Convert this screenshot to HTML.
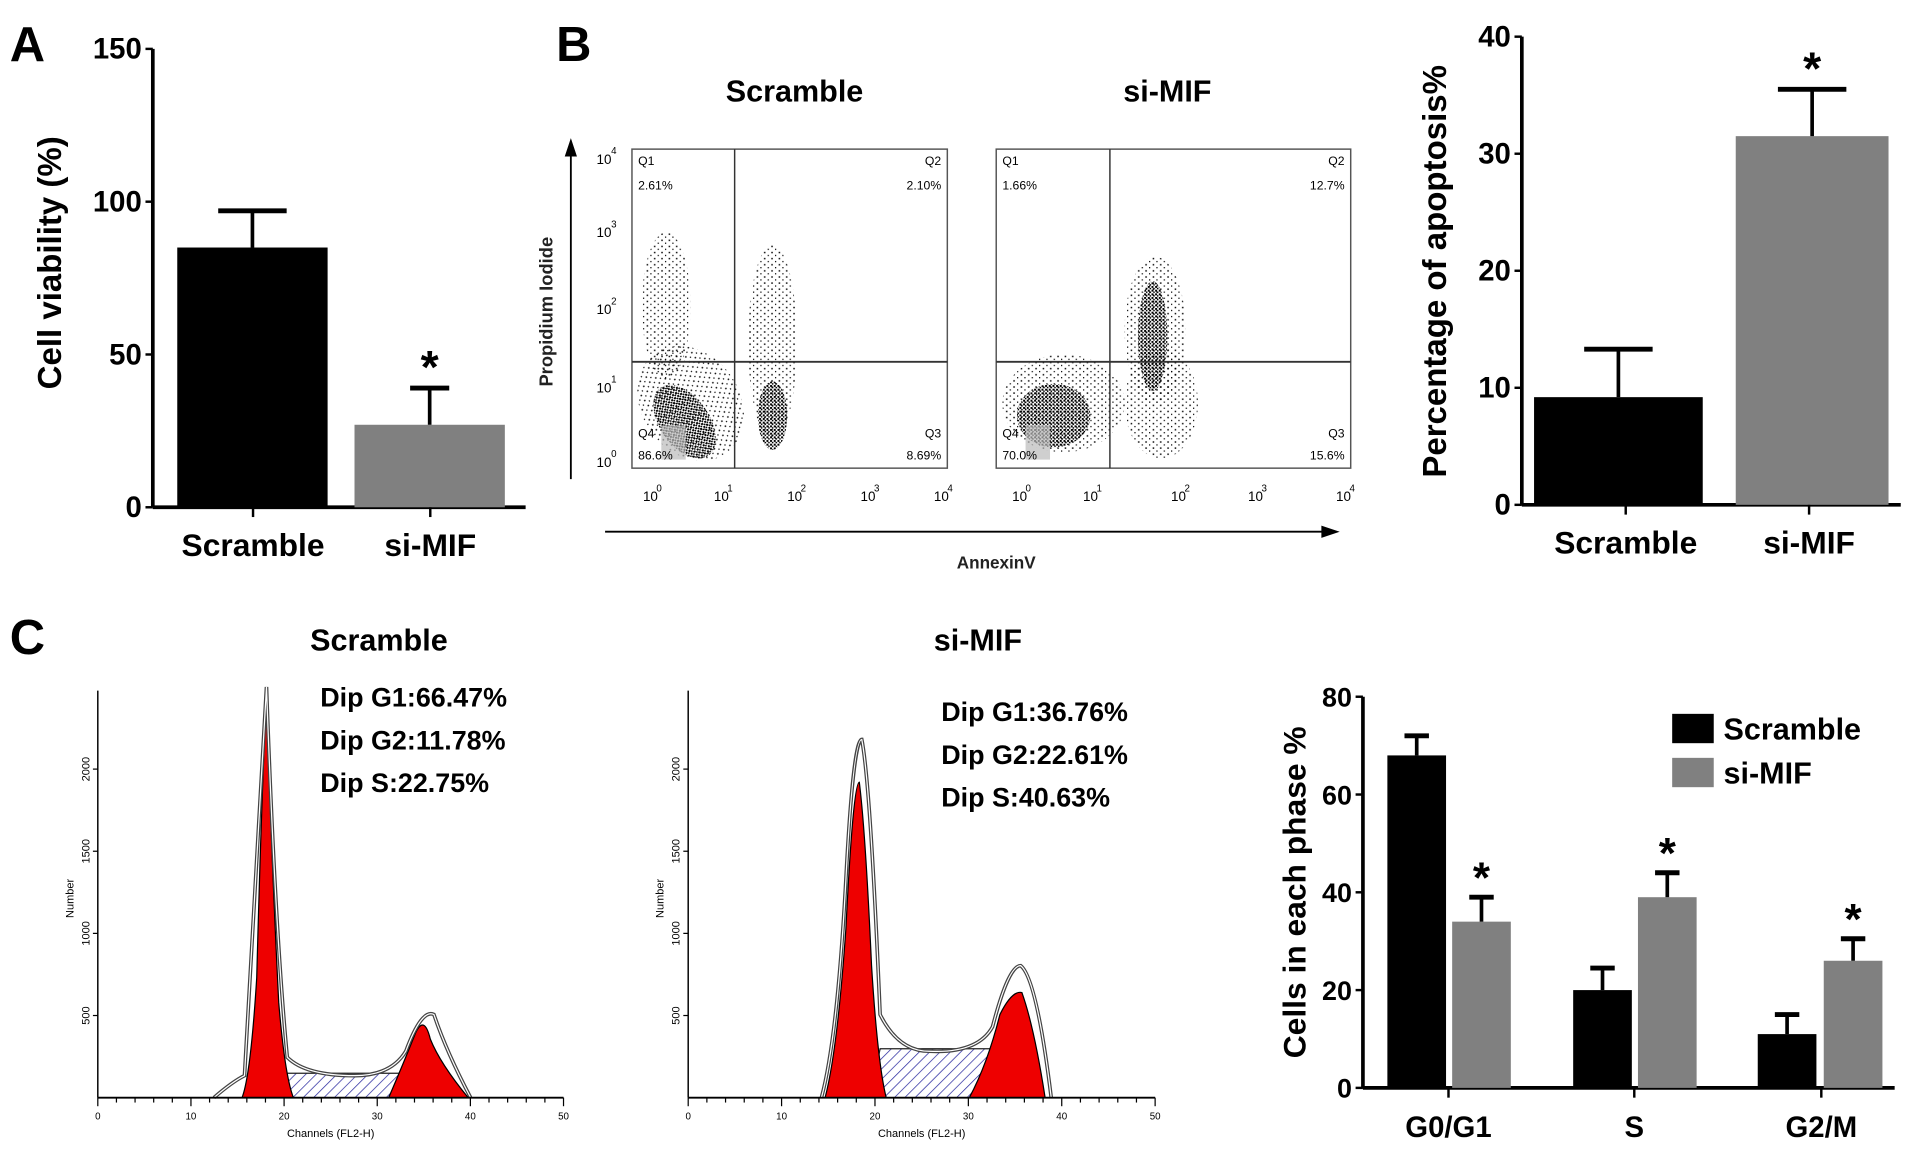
<!DOCTYPE html>
<html><head><meta charset="utf-8"><style>
html,body{margin:0;padding:0;background:#fff}
svg{display:block}
text{font-family:"Liberation Sans",Arial,sans-serif}
.b{font-weight:bold}
</style></head><body>
<svg id="fig" width="1913" height="1160" viewBox="0 0 1565 949" xmlns="http://www.w3.org/2000/svg">
<defs>
<pattern id="dots" width="3" height="3" patternUnits="userSpaceOnUse"><rect x="0" y="0" width="1.6" height="1.6" fill="#000"/><rect x="1.5" y="1.5" width="1.2" height="1.2" fill="#000"/></pattern>
<pattern id="sparse" width="6" height="5" patternUnits="userSpaceOnUse"><rect x="1" y="1" width="1.2" height="1.2" fill="#000"/><rect x="4" y="3.5" width="1" height="1" fill="#000"/></pattern>
<pattern id="hatchB" width="6" height="6" patternUnits="userSpaceOnUse" patternTransform="rotate(45)"><line x1="0" y1="0" x2="0" y2="6" stroke="#2a2aa0" stroke-width="1.2"/></pattern>
</defs>
<g id="A"></g>
<g id="B"></g>
<g id="Bbar"></g>
<g id="C"></g>
<g id="Cbar"></g>
</svg>
<script>
// Panel A data
const aCats = ['Scramble','si-MIF'];
const aVals = [85, 27];
const aErrs = [12, 12];
const aTicks = [0,50,100,150];
// Panel B bar data
const bCats = ['Scramble','si-MIF'];
const bVals = [9.2, 31.5];
const bErrs = [4.1, 4.0];
const bTicks = [0,10,20,30,40];
// Panel C bar data
const cCats = ['G0/G1','S','G2/M'];
const cScr = [68, 20, 11];
const cScrErr = [4, 4.5, 4];
const cSi = [34, 39, 26];
const cSiErr = [5, 5, 4.5];
const cTicks = [0,20,40,60,80];
const cStats = [['Dip G1:66.47%','Dip G2:11.78%','Dip S:22.75%'],['Dip G1:36.76%','Dip G2:22.61%','Dip S:40.63%']];
const quadLabels = [['2.61%','2.10%','86.6%','8.69%'],['1.66%','12.7%','70.0%','15.6%']];
const histTicks = [500,1000,1500,2000];

const NS='http://www.w3.org/2000/svg';
function mk(parent, tag, attrs, txt){const e=document.createElementNS(NS,tag);for(const k in attrs)e.setAttribute(k,attrs[k]);if(txt!==undefined)e.textContent=txt;parent.appendChild(e);return e;}

function barChart(g, o){
  const y=v=>o.y0-(v-o.min)/(o.max-o.min)*(o.y0-o.yTop);
  let el;
  el=mk(g,'line',{x1:o.ax,y1:o.yTop,x2:o.ax,y2:o.y0,stroke:'#000','stroke-width':3});
  
  
  el=mk(g,'line',{x1:o.ax,y1:o.y0,x2:o.axEnd,y2:o.y0,stroke:'#000','stroke-width':3});
  
  
  o.ticks.forEach(t=>{
    mk(g,'line',{x1:o.ax-6,y1:y(t),x2:o.ax,y2:y(t),stroke:'#000','stroke-width':2});
    el=mk(g,'text',{x:o.ax-9,y:y(t)+8,'text-anchor':'end','font-size':o.tf,'class':'b'},t);
    
    
  });
  o.bars.forEach(b=>{
    const top=y(b.v);
    el=mk(g,'rect',{x:b.x,y:top,width:b.w,height:o.y0-top,fill:b.c});
    
    
    const et=y(b.v+b.e), cx=b.x+b.w/2;
    mk(g,'line',{x1:cx,y1:top,x2:cx,y2:et,stroke:'#000','stroke-width':3});
    el=mk(g,'line',{x1:cx-b.cap,y1:et,x2:cx+b.cap,y2:et,stroke:'#000','stroke-width':4});
    
    
    if(b.star){el=mk(g,'text',{x:cx,y:et-4,'text-anchor':'middle','font-size':o.sf,'class':'b'},'*');
      
      }
  });
  o.cats.forEach(c=>{
    mk(g,'line',{x1:c.x,y1:o.y0,x2:c.x,y2:o.y0+8,stroke:'#000','stroke-width':2});
    el=mk(g,'text',{x:c.x,y:o.y0+o.lo,'text-anchor':'middle','font-size':o.lf,'class':'b'},c.t);
    
    
  });
  el=mk(g,'text',{x:0,y:0,'text-anchor':'middle','font-size':o.yf,'class':'b',transform:`translate(${o.ylx},${o.yly}) rotate(-90)`},o.yl);
  
  
}

// Panel A
const A=document.getElementById('A');
let t=mk(A,'text',{x:8,y:50,'font-size':40,'class':'b'},'A');
barChart(A,{ax:125,axEnd:430,y0:415,yTop:40,min:0,max:150,ticks:aTicks,tf:24,sf:38,lf:26,lo:40,
  bars:[{n:'scramble',x:145,w:123,v:aVals[0],e:aErrs[0],c:'#000',cap:28},{n:'si-mif',x:290,w:123,v:aVals[1],e:aErrs[1],c:'#808080',cap:16,star:true}],
  cats:[{x:207,t:aCats[0]},{x:352,t:aCats[1]}],yl:'Cell viability (%)',ylx:50,yly:215,yf:27});

// Panel B bar
barChart(document.getElementById('Bbar'),{ax:1245,axEnd:1555,y0:413,yTop:30,min:0,max:40,ticks:bTicks,tf:24,sf:38,lf:26,lo:40,
  bars:[{n:'scramble',x:1255,w:138,v:bVals[0],e:bErrs[0],c:'#000',cap:28},{n:'si-mif',x:1420,w:125,v:bVals[1],e:bErrs[1],c:'#808080',cap:28,star:true}],
  cats:[{x:1330,t:bCats[0]},{x:1480,t:bCats[1]}],yl:'Percentage of apoptosis%',ylx:1183,yly:222,yf:27});

// Panel C bar
const Cb=document.getElementById('Cbar');
barChart(Cb,{ax:1115,axEnd:1550,y0:890,yTop:570,min:0,max:80,ticks:cTicks,tf:22,sf:36,lf:24,lo:40,
  bars:[
   {n:'scramble-g0g1',x:1135,w:48,v:cScr[0],e:cScrErr[0],c:'#000',cap:10},
   {n:'si-mif-g0g1',x:1188,w:48,v:cSi[0],e:cSiErr[0],c:'#808080',cap:10,star:true},
   {n:'scramble-s',x:1287,w:48,v:cScr[1],e:cScrErr[1],c:'#000',cap:10},
   {n:'si-mif-s',x:1340,w:48,v:cSi[1],e:cSiErr[1],c:'#808080',cap:10,star:true},
   {n:'scramble-g2m',x:1438,w:48,v:cScr[2],e:cScrErr[2],c:'#000',cap:10},
   {n:'si-mif-g2m',x:1492,w:48,v:cSi[2],e:cSiErr[2],c:'#808080',cap:10,star:true}],
  cats:[{x:1185,t:cCats[0]},{x:1337,t:cCats[1]},{x:1490,t:cCats[2]}],yl:'Cells in each phase %',ylx:1068,yly:730,yf:26});
[['#000','Scramble',584],['#808080','si-MIF',620]].forEach((L,i)=>{
  const g=mk(Cb,'g',{});
  
  
  mk(g,'rect',{x:1368,y:L[2],width:34,height:24,fill:L[0]});
  mk(g,'text',{x:1410,y:L[2]+21,'font-size':25,'class':'b'},L[1]);
});

// Panel B scatter plots
const B=document.getElementById('B');
t=mk(B,'text',{x:455,y:50,'font-size':40,'class':'b'},'B');
mk(B,'line',{x1:467,y1:392,x2:467,y2:122,stroke:'#000','stroke-width':1.5});
mk(B,'polygon',{points:'467,113 462,128 472,128',fill:'#000'});
mk(B,'line',{x1:495,y1:435,x2:1085,y2:435,stroke:'#000','stroke-width':1.5});
mk(B,'polygon',{points:'1096,435 1081,430 1081,440',fill:'#000'});
t=mk(B,'text',{x:0,y:0,'font-size':15,'class':'b','text-anchor':'middle',fill:'#222',transform:'translate(452,255) rotate(-90)'},'Propidium Iodide');
t=mk(B,'text',{x:815,y:465,'font-size':14,'class':'b','text-anchor':'middle',fill:'#222'},'AnnexinV');
const plots=[{x0:517,x1:775,gx:601,gy:296,title:'Scramble',tx:650,xt:[530,588,648,708,768],
  blobs:[[565,330,40,50,-35,'sparse'],[545,250,20,60,0,'sparse'],[632,280,20,80,0,'sparse'],[560,345,20,34,-35,'dots'],[632,340,12,28,0,'dots']]},
 {x0:815,x1:1105,gx:908,gy:296,title:'si-MIF',tx:955,xt:[832,890,962,1025,1097],
  blobs:[[870,330,50,40,0,'sparse'],[950,330,30,45,0,'sparse'],[945,270,25,60,0,'sparse'],[862,340,30,26,0,'dots'],[943,275,12,45,0,'dots']]}];
plots.forEach((p,i)=>{
  const g=mk(B,'g',{});
  
  
  t=mk(g,'text',{x:p.tx,y:83,'font-size':25,'class':'b','text-anchor':'middle'},p.title);
  p.blobs.forEach(b=>mk(g,'ellipse',{cx:b[0],cy:b[1],rx:b[2],ry:b[3],fill:`url(#${b[5]})`,transform:`rotate(${b[4]} ${b[0]} ${b[1]})`}));
  mk(g,'rect',{x:p.x0+24,y:348,width:20,height:28,fill:'#bbb',opacity:0.7});
  mk(g,'rect',{x:p.x0,y:122,width:p.x1-p.x0,height:261,fill:'none',stroke:'#555','stroke-width':1.2});
  mk(g,'line',{x1:p.gx,y1:122,x2:p.gx,y2:383,stroke:'#333','stroke-width':1.2});
  mk(g,'line',{x1:p.x0,y1:p.gy,x2:p.x1,y2:p.gy,stroke:'#333','stroke-width':1.5});
  const ql=quadLabels[i];
  mk(g,'text',{x:p.x0+5,y:135,'font-size':10},'Q1');mk(g,'text',{x:p.x0+5,y:155,'font-size':10},ql[0]);
  mk(g,'text',{x:p.x1-5,y:135,'font-size':10,'text-anchor':'end'},'Q2');mk(g,'text',{x:p.x1-5,y:155,'font-size':10,'text-anchor':'end'},ql[1]);
  mk(g,'text',{x:p.x0+5,y:358,'font-size':10},'Q4');mk(g,'text',{x:p.x0+5,y:376,'font-size':10},ql[2]);
  mk(g,'text',{x:p.x1-5,y:358,'font-size':10,'text-anchor':'end'},'Q3');mk(g,'text',{x:p.x1-5,y:376,'font-size':10,'text-anchor':'end'},ql[3]);
  p.xt.forEach((x,k)=>{mk(g,'text',{x:x-4,y:410,'font-size':11},'10');mk(g,'text',{x:x+7,y:402,'font-size':8},k);});
  if(i===0)[378,317,253,190,130].forEach((y,k)=>{mk(g,'text',{x:488,y:y+4,'font-size':11},'10');mk(g,'text',{x:500,y:y-4,'font-size':8},k);});
});

// Panel C histograms
const C=document.getElementById('C');
t=mk(C,'text',{x:8,y:535,'font-size':40,'class':'b'},'C');
const hists=[{ax:80,x50:461,title:'Scramble',tx:310,txx:262,ty:578,yTop:562,
  g1:'M198,898 Q205,880 210,800 Q214,650 218,568 Q222,700 228,820 Q233,880 240,898 Z',
  g2:'M318,898 Q330,870 340,845 Q347,830 352,850 Q360,870 383,898 Z',
  s:'M228,898 L232,878 L330,878 L336,898 Z',
  env:'M175,898 Q190,885 200,880 Q210,700 218,562 Q225,760 235,865 Q250,880 290,880 Q320,880 332,860 Q345,825 355,830 Q365,860 385,898'},
 {ax:563,x50:945,title:'si-MIF',tx:800,txx:770,ty:590,yTop:562,
  g1:'M675,898 Q685,860 692,760 Q698,640 703,640 Q708,680 713,790 Q718,870 725,898 Z',
  g2:'M793,898 Q808,870 818,830 Q828,810 836,812 Q846,840 855,898 Z',
  s:'M712,898 L720,858 L812,858 L820,898 Z',
  env:'M672,898 Q685,850 692,720 Q698,605 705,605 Q712,640 720,830 Q735,860 760,860 Q800,862 812,840 Q825,790 835,790 Q848,800 860,898'}];
hists.forEach((h,i)=>{
  const g=mk(C,'g',{});
  
  
  mk(g,'text',{x:h.tx,y:532,'font-size':25,'class':'b','text-anchor':'middle'},h.title);
  mk(g,'path',{d:h.s,fill:'url(#hatchB)',stroke:'#222','stroke-width':1});
  mk(g,'path',{d:h.g1,fill:'#ee0000',stroke:'#000','stroke-width':1});
  mk(g,'path',{d:h.g2,fill:'#ee0000',stroke:'#000','stroke-width':1});
  mk(g,'path',{d:h.env,fill:'none',stroke:'#444','stroke-width':3});
  mk(g,'path',{d:h.env,fill:'none',stroke:'#fff','stroke-width':1});
  mk(g,'line',{x1:h.ax,y1:565,x2:h.ax,y2:898,stroke:'#000','stroke-width':1.2});
  mk(g,'line',{x1:h.ax,y1:898,x2:h.x50,y2:898,stroke:'#000','stroke-width':1.5});
  histTicks.forEach(v=>{const y=898-v/2500*(898-h.yTop);
    mk(g,'line',{x1:h.ax-4,y1:y,x2:h.ax,y2:y,stroke:'#000','stroke-width':1});
    mk(g,'text',{x:0,y:0,'font-size':9,'text-anchor':'middle',transform:`translate(${h.ax-7},${y}) rotate(-90)`},v);});
  for(let k=0;k<=50;k+=2){const x=h.ax+(h.x50-h.ax)*k/50;mk(g,'line',{x1:x,y1:898,x2:x,y2:k%10?902:905,stroke:'#000','stroke-width':1});}
  for(let k=0;k<=50;k+=10){const x=h.ax+(h.x50-h.ax)*k/50;mk(g,'text',{x:x,y:916,'font-size':8,'text-anchor':'middle'},k);}
  mk(g,'text',{x:(h.ax+h.x50)/2,y:930,'font-size':9,'text-anchor':'middle'},'Channels (FL2-H)');
  mk(g,'text',{x:0,y:0,'font-size':9,'text-anchor':'middle',transform:`translate(${h.ax-20},735) rotate(-90)`},'Number');
  cStats[i].forEach((s,k)=>{t=mk(g,'text',{x:h.txx,y:h.ty+k*35,'font-size':22,'class':'b'},s);});
});
</script>
</body></html>
